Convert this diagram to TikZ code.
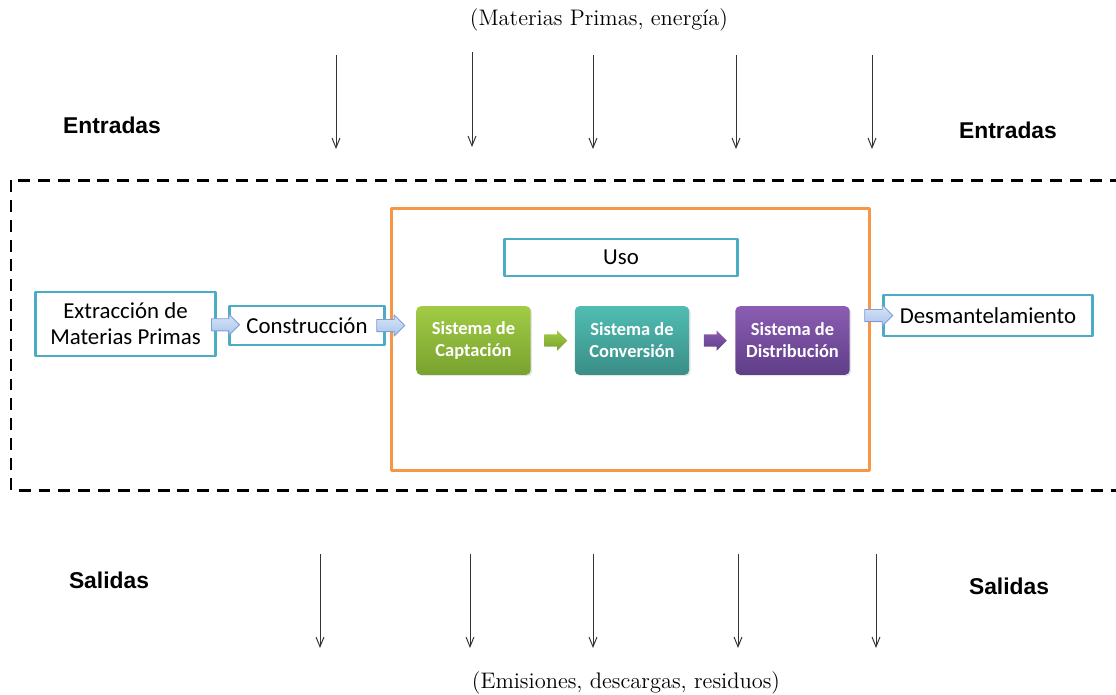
\documentclass[tikz,border=0pt]{standalone}
\usepackage{fontspec}
\newfontfamily\boxfont{Carlito}
\newfontfamily\labfont{Liberation Sans}
\usetikzlibrary{arrows.meta,shapes.arrows,shadows,calc}
\definecolor{boxblue}{HTML}{4BACC6}
\definecolor{frmorange}{HTML}{F79646}
\definecolor{arrblue}{HTML}{A9C4EC}
\definecolor{arrline}{HTML}{7F9ED6}
\definecolor{capup}{HTML}{A2CB45}\definecolor{capdn}{HTML}{78A22F}
\definecolor{convup}{HTML}{50BDB2}\definecolor{convdn}{HTML}{3A8E87}
\definecolor{distup}{HTML}{8B5DB2}\definecolor{distdn}{HTML}{5F3E88}
\begin{document}
\begin{tikzpicture}[x=0.02cm,y=-0.02cm,line join=round,
 wbox/.style={draw=boxblue,line width=1.4pt,fill=white,inner sep=1pt,align=center,
   font=\boxfont\fontsize{13}{14.7}\selectfont},
 sbox/.style={rounded corners=2.5pt,minimum width=65pt,minimum height=39pt,inner sep=1pt,
   align=center,text=white,font=\boxfont\bfseries\fontsize{10.5}{12.5}\selectfont,
   drop shadow={opacity=0.2,shadow xshift=0.8pt,shadow yshift=-0.8pt}},
 blk/.style={single arrow,draw=arrline,line width=0.5pt,top color=white!55!arrblue,bottom color=arrblue,
   minimum height=16pt,inner sep=3.2pt,single arrow head extend=2.6pt},
 sblk/.style={single arrow,minimum height=13pt,inner sep=3.3pt,single arrow head extend=2.2pt},
 inout/.style={draw=black!80,line width=0.55pt,-{Straight Barb[length=5.5pt,width=4.5pt]}},
 lab/.style={font=\labfont\bfseries\fontsize{13}{15}\selectfont},
 note/.style={font=\fontsize{12.8}{15}\selectfont}]
 \useasboundingbox (0,0) rectangle (1116,694);
 \clip (0,0) rectangle (1116,694);
 \node[note] (mat) at (599,20) {(Materias Primas, energía)};
 \node[note] (emi) at (626,683) {(Emisiones, descargas, residuos)};
 \node[lab] (entl) at (112,125) {Entradas};
 \node[lab] (entr) at (1008,130) {Entradas};
 \node[lab] (sall) at (109,580) {Salidas};
 \node[lab] (salr) at (1009,586) {Salidas};
 \draw[line width=1.7pt,dash pattern=on 6.8pt off 4.5pt] (11,180) rectangle (1130,490);
 \node[draw=frmorange,line width=1.7pt,minimum width=9.58cm,minimum height=5.26cm] (frm) at (630.5,339.5) {};
 \node[wbox,minimum width=132.7pt,minimum height=21pt] (uso) at (621,257.5) {Uso};
 \node[wbox,minimum width=102.6pt,minimum height=36.3pt] (ext) at (125.5,324) {Extracción de\\Materias Primas};
 \node[wbox,minimum width=88.4pt,minimum height=22.1pt] (con) at (307,325.5) {Construcción};
 \node[wbox,minimum width=119pt,minimum height=23.2pt] (des) at (988,315.5) {Desmantelamiento};
 \node[sbox,top color=capup,bottom color=capdn] (cap) at (473.5,340.5) {Sistema de\\Captación};
 \node[sbox,top color=convup,bottom color=convdn] (conv) at (632,340.5) {Sistema de\\Conversión};
 \node[sbox,top color=distup,bottom color=distdn] (dist) at (792.5,340.5) {Sistema de\\Distribución};
 \node[blk] (a1) at ($(ext.east)!0.5!(con.west)$) {};
 \node[blk] (a2) at ($(con.east)!0.5!(con.east -| frm.west)$) {};
 \node[blk] (a3) at ($(des.west -| frm.east)!0.4!(des.west)$) {};
 \node[sblk,top color=capup,bottom color=capdn] (a4) at ($(cap.east)!0.5!(conv.west)$) {};
 \node[sblk,top color=distup,bottom color=distdn] (a5) at ($(conv.east)!0.5!(dist.west)$) {};
 \foreach \x/\a/\b in {336/55/149,472/52/147,593/55/149,736/55/149,872/55/149}
   \draw[inout] (\x,\a) -- (\x,\b);
 \foreach \x/\a/\b in {320/554/648,470/554/648,593/554/648,738/554/648,876/554/648}
   \draw[inout] (\x,\a) -- (\x,\b);
\end{tikzpicture}
\end{document}
